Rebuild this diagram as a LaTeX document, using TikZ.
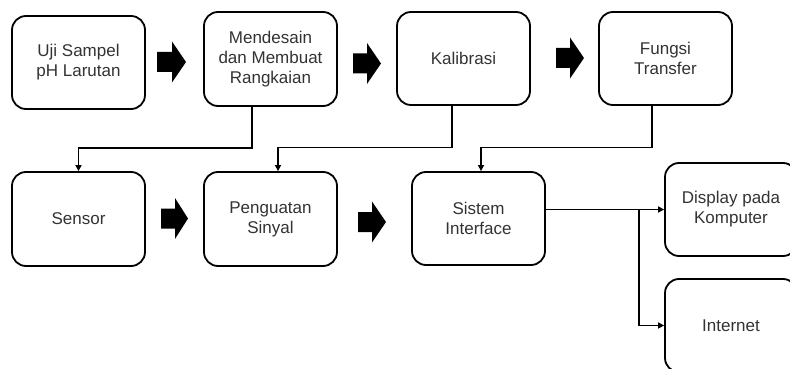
\documentclass[tikz,border=0pt]{standalone}
\usepackage{fontspec}
\setmainfont{Liberation Sans}
\usetikzlibrary{calc,arrows.meta}
\begin{document}
\begin{tikzpicture}[x=1pt,y=-1pt,
  box/.style={draw=black, line width=1.8pt, rounded corners=14pt, minimum width=133pt, minimum height=93pt,
    align=center, text=black!80, font=\fontsize{17}{20}\selectfont, inner sep=0pt},
  conn/.style={line width=1.8pt, -{Triangle[length=6pt,width=6pt]}},
  blk/.style={fill=black}]
\useasboundingbox (0,0) rectangle (790,369);
\clip (0,0) rectangle (790,369);
\fill[white] (0,0) rectangle (790,369);
\node[box] (b1) at (78.5,62.5) {Uji Sampel\\pH Larutan};
\node[box, minimum height=94pt] (b2) at (270.5,59) {Mendesain\\dan Membuat\\Rangkaian};
\node[box] (b3) at (463.5,58.5) {Kalibrasi};
\node[box] (b4) at (665.5,58.5) {Fungsi\\Transfer};
\node[box, minimum height=94pt] (b5) at (78.5,219) {Sensor};
\node[box, minimum height=94pt] (b6) at (270.5,219) {Penguatan\\Sinyal};
\node[box] (b7) at (478.5,218.5) {Sistem\\Interface};
\node[box, minimum width=132pt] (b8) at (731,209.5) {Display pada\\Komputer};
\node[box, minimum width=132pt] (b9) at (731,325.5) {Internet};
% block arrows
\newcommand\blockarr[4]{\fill[blk] (#1,#4-10) -- (#2,#4-10) -- (#2,#4-20.5) -- (#3,#4) -- (#2,#4+20.5) -- (#2,#4+10) -- (#1,#4+10) -- cycle;}
\blockarr{157}{172}{186}{62}
\blockarr{353}{367}{381}{63.5}
\blockarr{556}{570}{584}{58}
\blockarr{161}{175}{188}{218.5}
\blockarr{358}{372}{386}{222}
% connectors
\draw[conn] ($(b2.south)+(-18.5,0)$) -- ++(0,41) -| (b5.north);
\draw[conn] ($(b3.south)+(-11.5,0)$) -- ++(0,41.5) -| ($(b6.north)+(7.5,0)$);
\draw[conn] ($(b4.south)+(-13.5,0)$) -- ++(0,41.5) -| ($(b7.north)+(2.5,0)$);
\draw[conn] (b7.east |- b8.west) -- (b8.west);
\coordinate (br) at (639,209.5);
\draw[conn] (br) |- (b9.west);
\end{tikzpicture}
\end{document}
